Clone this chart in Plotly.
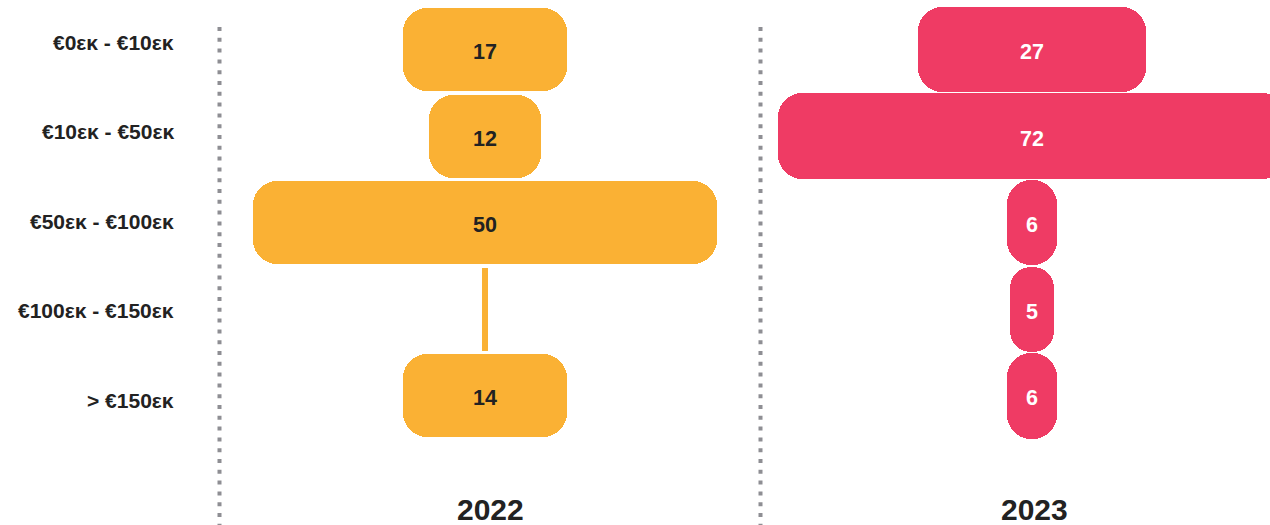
import plotly.graph_objects as go

# ---------------- data ----------------
categories = ["€0εκ - €10εκ", "€10εκ - €50εκ", "€50εκ - €100εκ", "€100εκ - €150εκ", "> €150εκ"]
years = ["2022", "2023"]
counts_2022 = [17, 12, 50, 0, 14]
counts_2023 = [27, 72, 6, 5, 6]
# bar lengths as drawn in the picture (same units as the counts of each panel)
bar_len_2022 = [17.7, 12.1, 50, 0, 17.6]
bar_len_2023 = [32.3, 72, 7.1, 6.2, 7.1]

# ---------------- style / layout ----------------
W, H = 1270, 525
ORANGE = "#FAB134"
PINK = "#EF3B64"
DARK = "#222222"
DOT = "#8E8E93"
FONT = "Liberation Sans, Arial, sans-serif"

ROW0_PX, ROW_PITCH = 49.5, 86.6          # bar rows
LABEL0_PX, LABEL_PITCH = 42.5, 89.4      # left category labels
panels = [
    dict(year=years[0], counts=counts_2022, lens=bar_len_2022, color=ORANGE, text=DARK,
         center_px=485, px_per_unit=9.28, thick=0.958, axis="x", year_px=490),
    dict(year=years[1], counts=counts_2023, lens=bar_len_2023, color=PINK, text="white",
         center_px=1032, px_per_unit=7.056, thick=0.985, axis="x2", year_px=1034),
]
STUB_PX = 6
RADIUS = 24

rows = list(range(len(categories)))
fig = go.Figure()
annotations = []

for p in panels:
    half = [l / 2 for l in p["lens"]]
    common = dict(y=rows, orientation="h", width=p["thick"], xaxis=p["axis"], yaxis="y",
                  hoverinfo="skip", showlegend=False)
    fig.add_trace(go.Bar(x=half, marker=dict(color=p["color"], cornerradius=RADIUS, line_width=0), **common))
    fig.add_trace(go.Bar(x=[-h for h in half], marker=dict(color=p["color"], cornerradius=RADIUS, line_width=0), **common))
    # zero-value rows: thin stub
    zr = [r for r, c in zip(rows, p["counts"]) if c == 0]
    if zr:
        s = STUB_PX / p["px_per_unit"]
        fig.add_trace(go.Bar(y=zr, x=[s] * len(zr), base=[-s / 2] * len(zr), orientation="h",
                             width=p["thick"], xaxis=p["axis"], yaxis="y",
                             marker=dict(color=p["color"], line_width=0),
                             hoverinfo="skip", showlegend=False))
    for r, c in zip(rows, p["counts"]):
        if c:
            annotations.append(dict(text=str(c), xref=p["axis"], yref="y", x=0, y=r, yshift=-2.5,
                                    xanchor="center", yanchor="middle", showarrow=False,
                                    font=dict(size=21.5, color=p["text"], family=FONT, weight="bold")))

def xrange(p):
    return [-p["center_px"] / p["px_per_unit"], (W - p["center_px"]) / p["px_per_unit"]]

ax_common = dict(domain=[0, 1], visible=False, showgrid=False, zeroline=False, fixedrange=True)
for i, cat in enumerate(categories):
    ypx = LABEL0_PX + LABEL_PITCH * i
    annotations.append(dict(text=cat, xref="paper", yref="paper", x=176 / W, y=1 - ypx / H,
                            xanchor="right", yanchor="middle", showarrow=False,
                            font=dict(size=21, color=DARK, family=FONT, weight="bold")))
for p in panels:
    annotations.append(dict(text=p["year"], xref="paper", yref="paper", x=p["year_px"] / W, y=1 - 509.5 / H,
                            xanchor="center", yanchor="middle", showarrow=False,
                            font=dict(size=30, color=DARK, family=FONT, weight="bold")))

shapes = []
for xpx in (219.5, 760.5):
    shapes.append(dict(type="line", xref="paper", yref="paper", x0=xpx / W, x1=xpx / W,
                       y0=1 - 27 / H, y1=0, line=dict(color=DOT, width=4, dash="4px,6.8px")))

fig.update_layout(
    width=W, height=H, margin=dict(l=0, r=0, t=0, b=0),
    paper_bgcolor="white", plot_bgcolor="white",
    barmode="overlay", bargap=0,
    xaxis=dict(range=xrange(panels[0]), **ax_common),
    xaxis2=dict(range=xrange(panels[1]), overlaying="x", anchor="y", **ax_common),
    yaxis=dict(range=[(H - ROW0_PX) / ROW_PITCH, -ROW0_PX / ROW_PITCH], domain=[0, 1],
               visible=False, fixedrange=True),
    annotations=annotations, shapes=shapes,
    showlegend=False,
)

fig.write_html("out.html", config={"displayModeBar": False},
               post_script="document.body.style.margin='0';document.body.style.overflow='hidden';")
